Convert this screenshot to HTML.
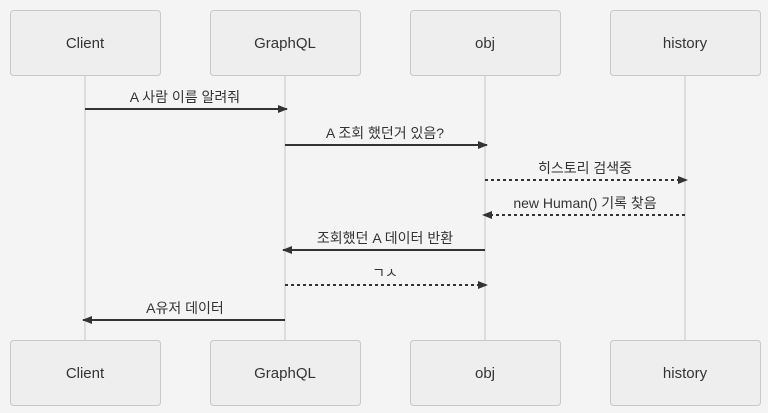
<!DOCTYPE html>
<html><head><meta charset="utf-8"><style>
html,body{margin:0;padding:0;background:#f4f4f4;}
svg{display:block;}
text{font-family:"Liberation Sans","Noto Sans CJK KR",sans-serif;fill:#333;}
</style></head><body>
<svg width="768" height="413" viewBox="0 0 768 413" xmlns="http://www.w3.org/2000/svg">
<rect width="768" height="413" fill="#f4f4f4"/>
<defs>
<marker id="a" markerWidth="10" markerHeight="8" refX="9" refY="4" orient="auto" markerUnits="userSpaceOnUse"><path d="M0,0 L10,4 L0,8 z" fill="#333"/></marker>
</defs>
<g stroke="#ddd" stroke-width="2">
<line x1="85" y1="75" x2="85" y2="340"/><line x1="285" y1="75" x2="285" y2="340"/>
<line x1="485" y1="75" x2="485" y2="340"/><line x1="685" y1="75" x2="685" y2="340"/>
</g>
<g fill="#eee" stroke="#c8c8c8" stroke-width="1">
<rect x="10.5" y="10.5" width="150" height="65" rx="3"/><rect x="210.5" y="10.5" width="150" height="65" rx="3"/>
<rect x="410.5" y="10.5" width="150" height="65" rx="3"/><rect x="610.5" y="10.5" width="150" height="65" rx="3"/>
<rect x="10.5" y="340.5" width="150" height="65" rx="3"/><rect x="210.5" y="340.5" width="150" height="65" rx="3"/>
<rect x="410.5" y="340.5" width="150" height="65" rx="3"/><rect x="610.5" y="340.5" width="150" height="65" rx="3"/>
</g>
<g font-size="15" text-anchor="middle">
<text x="85" y="48">Client</text><text x="285" y="48">GraphQL</text><text x="485" y="48">obj</text><text x="685" y="48">history</text>
<text x="85" y="378">Client</text><text x="285" y="378">GraphQL</text><text x="485" y="378">obj</text><text x="685" y="378">history</text>
</g>
<g stroke="#333" stroke-width="2" marker-end="url(#a)">
<line x1="85" y1="109" x2="287" y2="109"/>
<line x1="285" y1="145" x2="487" y2="145"/>
<line x1="485" y1="180" x2="687" y2="180" stroke-dasharray="3,3"/>
<line x1="685" y1="215" x2="483" y2="215" stroke-dasharray="3,3"/>
<line x1="485" y1="250" x2="283" y2="250"/>
<line x1="285" y1="285" x2="487" y2="285" stroke-dasharray="3,3"/>
<line x1="285" y1="320" x2="83" y2="320"/>
</g>
<g font-size="14" text-anchor="middle">
<text x="185" y="102">A 사람 이름 알려줘</text>
<text x="385" y="138">A 조회 했던거 있음?</text>
<text x="585" y="173">히스토리 검색중</text>
<text x="585" y="208">new Human() 기록 찾음</text>
<text x="385" y="243">조회했던 A 데이터 반환</text>
<text x="385" y="278">ㄱㅅ</text>
<text x="185" y="313">A유저 데이터</text>
</g>
</svg>
</body></html>
